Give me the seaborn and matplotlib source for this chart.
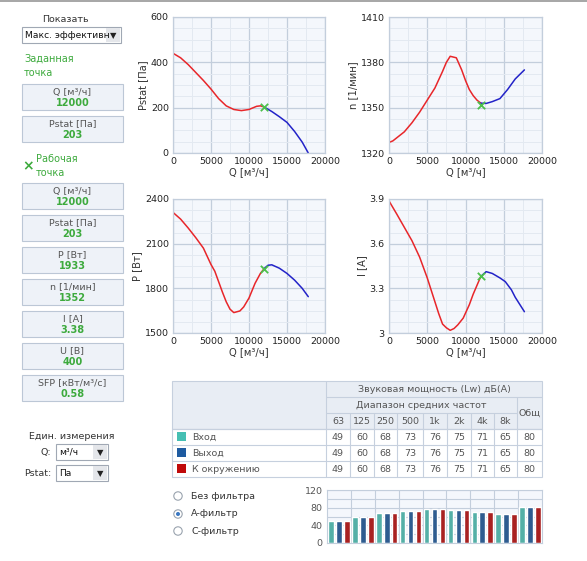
import numpy as np
import pandas as pd
import seaborn as sns
import matplotlib.pyplot as plt
from matplotlib.patches import Rectangle, Circle
from matplotlib.ticker import MultipleLocator, FormatStrFormatter

sns.set_style("white")
plt.rcParams['font.family'] = ['DejaVu Sans']

# Curves: red = before working point, blue = after
q_pstat_red = [0, 1000, 2000, 3000, 4000, 5000, 6000, 7000, 8000, 9000, 10000, 11000, 11500, 12000]
pstat_red = [440, 420, 390, 355, 320, 282, 240, 208, 192, 187, 192, 206, 208, 203]
q_pstat_blue = [12000, 13000, 14000, 15000, 16000, 17000, 17800]
pstat_blue = [203, 183, 160, 135, 95, 48, 0]

q_n_red = [0, 500, 1000, 2000, 3000, 4000, 5000, 6000, 7000, 7500, 8000, 8800, 9500, 10000, 10500, 11000, 11500, 12000]
n_red = [1327, 1328, 1330, 1334, 1340, 1347, 1355, 1363, 1374, 1380, 1384, 1383, 1375, 1368, 1362, 1358, 1355, 1353]
q_n_blue = [12000, 12700, 13500, 14500, 15500, 16500, 17700]
n_blue = [1353, 1352.8, 1354, 1356, 1362, 1369, 1375]

q_p_red = [0, 1000, 2000, 3000, 4000, 5000, 5500, 6000, 6500, 7000, 7500, 8000, 8800, 9300, 10000, 10800, 11500, 12000]
p_red = [2310, 2265, 2205, 2140, 2070, 1960, 1915, 1845, 1775, 1710, 1660, 1637, 1648, 1675, 1735, 1834, 1900, 1933]
q_p_blue = [12000, 12500, 13000, 14000, 15000, 16000, 17000, 17800]
p_blue = [1933, 1955, 1958, 1935, 1900, 1855, 1800, 1744]

q_i_red = [0, 1000, 2000, 3000, 4000, 5000, 5500, 6000, 6500, 7000, 7500, 8000, 8500, 9000, 9700, 10500, 11000, 11500, 12000]
i_red = [3.887, 3.80, 3.71, 3.62, 3.51, 3.37, 3.29, 3.21, 3.13, 3.06, 3.035, 3.018, 3.03, 3.055, 3.10, 3.19, 3.26, 3.32, 3.38]
q_i_blue = [12000, 12700, 13500, 14500, 15200, 16000, 16500, 17700]
i_blue = [3.38, 3.412, 3.40, 3.37, 3.345, 3.29, 3.24, 3.143]

q_work = 12000
work_values = {'pstat': 203, 'n': 1352, 'p': 1933, 'i': 3.38}

# Left panel values
info_labels = ['Q [м³/ч]', 'Pstat [Па]', 'Q [м³/ч]', 'Pstat [Па]', 'P [Вт]', 'n [1/мин]', 'I [A]', 'U [В]', 'SFP [кВт/м³/с]']
info_values = ['12000', '203', '12000', '203', '1933', '1352', '3.38', '400', '0.58']

# Sound table
bands = ['63', '125', '250', '500', '1k', '2k', '4k', '8k']
row_names = ['Вход', 'Выход', 'К окружению']
band_levels = [49, 60, 68, 73, 76, 75, 71, 65]
total_level = 80
bar_levels = band_levels + [82]

RED = '#E8262A'
BLUE = '#2323C8'
GREEN = '#3DAA3D'
ROW_COLORS = ['#45BFB3', '#1E5BA0', '#C00A0A']
GRID = '#C3CEDC'
MINOR = '#E3E9F1'
BG = '#F4F7FC'
TXT = '#333333'

W, H = 587, 561
fig = plt.figure(figsize=(W / 100, H / 100), dpi=100)


def px_axes(x0, y0, x1, y1):
    return fig.add_axes([x0 / W, 1 - y1 / H, (x1 - x0) / W, (y1 - y0) / H])


# UI layer in pixel coordinates
ui = fig.add_axes([0, 0, 1, 1])
ui.set_xlim(0, W)
ui.set_ylim(H, 0)
ui.axis('off')
ui.add_patch(Rectangle((0, 0), W, 2, color='#A8A8A8', lw=0))


def dropdown(x0, y0, x1, y1, text):
    ui.add_patch(Rectangle((x0, y0), x1 - x0, y1 - y0, fc='white', ec='#A0A8B4', lw=0.8))
    t = ui.text(x0 + 3, (y0 + y1) / 2, text, fontsize=6.6, ha='left', va='center', color='#111111')
    clip = Rectangle((x0, y0), x1 - x0 - 15, y1 - y0, transform=ui.transData, visible=False)
    ui.add_patch(clip)
    t.set_clip_path(clip)
    ui.add_patch(Rectangle((x1 - 15, y0 + 1), 14, y1 - y0 - 2, fc='#E4E6EA', ec='none'))
    ui.text(x1 - 8, (y0 + y1) / 2 + 0.5, '▼', fontsize=6, ha='center', va='center', color='#222222')


ui.text(65, 19, 'Показать', fontsize=6.8, ha='center', va='center', color=TXT)
dropdown(22, 27, 121, 43, 'Макс. эффективн')
ui.text(24, 59, 'Заданная', fontsize=7, color=GREEN, va='center')
ui.text(24, 73, 'точка', fontsize=7, color=GREEN, va='center')
ui.text(28, 166, '×', fontsize=10, color=GREEN, ha='center', va='center', fontweight='bold')
ui.text(36, 159, 'Рабочая', fontsize=7, color=GREEN, va='center')
ui.text(36, 173, 'точка', fontsize=7, color=GREEN, va='center')

box_tops = [84, 116, 183, 215, 247, 279, 311, 343, 375]
for top, label, value in zip(box_tops, info_labels, info_values):
    ui.add_patch(Rectangle((22, top), 101, 26, fc='#EEF2F8', ec='#BCC7D6', lw=0.8))
    ui.text(72.5, top + 8, label, fontsize=6.8, ha='center', va='center', color='#555555')
    ui.text(72.5, top + 19, value, fontsize=7, ha='center', va='center', color=GREEN, fontweight='bold')

ui.text(72, 436, 'Един. измерения', fontsize=6.8, ha='center', va='center', color=TXT)
ui.text(51, 452, 'Q:', fontsize=6.8, ha='right', va='center', color=TXT)
dropdown(56, 444, 108, 460, 'м³/ч')
ui.text(51, 473, 'Pstat:', fontsize=6.8, ha='right', va='center', color=TXT)
dropdown(56, 465, 108, 481, 'Па')

radio_labels = ['Без фильтра', 'А-фильтр', 'С-фильтр']
for k, (yy, lab) in enumerate(zip([496, 514, 531], radio_labels)):
    ui.add_patch(Circle((178, yy), 4.2, fc='white', ec='#9AA3AE', lw=0.8))
    if k == 1:
        ui.add_patch(Circle((178, yy), 2.0, fc='#3A78C2', ec='none'))
    ui.text(191, yy, lab, fontsize=6.8, va='center', color=TXT)

# Sound table
col_x = [326, 350, 374, 397, 423, 447, 471, 494, 517, 542]
row_y = [381, 397, 413, 429, 445, 461, 477]
HEAD = '#E8EDF4'
LINE = '#C6D0DE'
ui.add_patch(Rectangle((172, 381), 542 - 172, 48, fc=HEAD, ec=LINE, lw=0.8))
ui.add_patch(Rectangle((172, 429), 542 - 172, 48, fc='white', ec=LINE, lw=0.8))
ui.plot([326, 326], [381, 477], color=LINE, lw=0.8)
ui.plot([326, 542], [397, 397], color=LINE, lw=0.8)
ui.plot([326, 517], [413, 413], color=LINE, lw=0.8)
ui.plot([517, 517], [397, 477], color=LINE, lw=0.8)
for x in col_x[1:-2]:
    ui.plot([x, x], [413, 477], color=LINE, lw=0.8)
for y in row_y[3:6]:
    ui.plot([172, 542], [y, y], color=LINE, lw=0.8)
ui.text(434, 389, 'Звуковая мощность (Lw) дБ(А)', fontsize=6.8, ha='center', va='center', color='#555555')
ui.text(421, 405, 'Диапазон средних частот', fontsize=6.8, ha='center', va='center', color='#555555')
ui.text(529.5, 413, 'Общ', fontsize=6.8, ha='center', va='center', color='#555555')
for j, b in enumerate(bands):
    ui.text((col_x[j] + col_x[j + 1]) / 2, 421, b, fontsize=6.8, ha='center', va='center', color='#555555')
for r, name in enumerate(row_names):
    yc = (row_y[3 + r] + row_y[4 + r]) / 2
    ui.add_patch(Rectangle((177, yc - 5), 9, 9, fc=ROW_COLORS[r], ec='none'))
    ui.text(192, yc, name, fontsize=6.8, va='center', color='#555555')
    for j, v in enumerate(band_levels + [total_level]):
        ui.text((col_x[j] + col_x[j + 1]) / 2, yc, str(v), fontsize=6.8, ha='center', va='center', color='#555555')


def style_curve_axes(ax, ylim, ystep, xlabel, ylabel):
    ax.set_facecolor(BG)
    ax.set_xlim(0, 20000)
    ax.set_ylim(*ylim)
    ax.xaxis.set_major_locator(MultipleLocator(5000))
    ax.xaxis.set_minor_locator(MultipleLocator(2500))
    ax.yaxis.set_major_locator(MultipleLocator(ystep))
    ax.yaxis.set_minor_locator(MultipleLocator(ystep / 4))
    ax.yaxis.set_major_formatter(FormatStrFormatter('%g'))
    ax.grid(True, which='minor', color=MINOR, lw=0.7)
    ax.grid(True, which='major', color=GRID, lw=0.9)
    ax.set_axisbelow(True)
    ax.tick_params(which='both', length=0, labelsize=6.8, colors='#222222', pad=3)
    for s in ax.spines.values():
        s.set_color(GRID)
        s.set_linewidth(0.9)
    ax.set_xlabel(xlabel, fontsize=7.2, color='#333333', labelpad=0.5)
    ax.set_ylabel(ylabel, fontsize=7.2, color='#333333', labelpad=2)


panels = [
    ((173, 17, 325, 153), q_pstat_red, pstat_red, q_pstat_blue, pstat_blue, work_values['pstat'], (0, 600), 200, 'Pstat [Па]'),
    ((389, 17, 542, 153), q_n_red, n_red, q_n_blue, n_blue, work_values['n'], (1320, 1410), 30, 'n [1/мин]'),
    ((173, 199, 325, 333), q_p_red, p_red, q_p_blue, p_blue, work_values['p'], (1500, 2400), 300, 'P [Вт]'),
    ((389, 199, 542, 333), q_i_red, i_red, q_i_blue, i_blue, work_values['i'], (3.0, 3.9), 0.3, 'I [A]'),
]
for box, qr, vr, qb, vb, wv, ylim, ystep, ylabel in panels:
    ax = px_axes(*box)
    sns.lineplot(x=qr, y=vr, color=RED, lw=1.1, sort=False, estimator=None, ax=ax)
    sns.lineplot(x=qb, y=vb, color=BLUE, lw=1.1, sort=False, estimator=None, ax=ax)
    sns.scatterplot(x=[q_work], y=[wv], marker='x', s=28, color='#4CC04C', linewidth=1.3, ax=ax, zorder=5)
    style_curve_axes(ax, ylim, ystep, 'Q [м³/ч]', ylabel)

# Bar chart of sound power
bar_df = pd.DataFrame({
    'band': np.repeat(bands + ['total'], 3),
    'row': row_names * 9,
    'level': np.repeat(bar_levels, 3),
})
bx = px_axes(327, 490, 542, 543)
sns.barplot(data=bar_df, x='band', y='level', hue='row', palette=ROW_COLORS, width=1.0, gap=0.3,
            legend=False, ax=bx)
bx.set_facecolor(BG)
bx.set_xlim(-0.5, 8.5)
bx.set_ylim(0, 120)
bx.set_yticks([0, 40, 80, 120])
bx.yaxis.set_minor_locator(MultipleLocator(20))
bx.set_xticks(np.arange(0.5, 8.5, 1.0), minor=True)
bx.set_xticks([])
bx.grid(True, which='minor', color=GRID, lw=0.8)
bx.grid(True, which='major', axis='y', color=GRID, lw=0.8)
bx.set_axisbelow(True)
bx.tick_params(which='both', length=0, labelsize=6.8, colors='#555555', pad=3)
bx.set_xlabel('')
bx.set_ylabel('')
for s in bx.spines.values():
    s.set_color(GRID)
    s.set_linewidth(0.8)

fig.savefig('out.png', dpi=100)
